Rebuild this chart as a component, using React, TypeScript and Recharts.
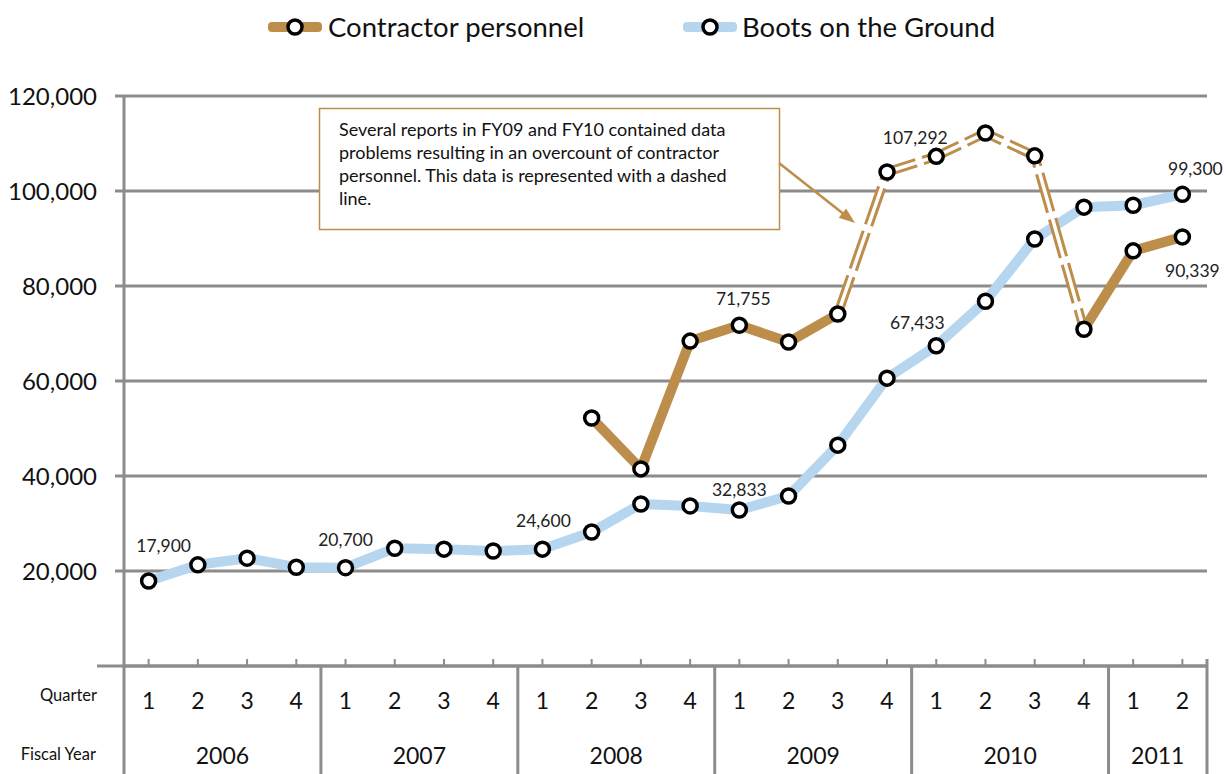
import React from 'react';
import { LineChart, Line, XAxis, YAxis, CartesianGrid, LabelList } from 'recharts';

// ---------- data ----------
const fiscalYears = ['2006', '2006', '2006', '2006', '2007', '2007', '2007', '2007', '2008', '2008', '2008', '2008', '2009', '2009', '2009', '2009', '2010', '2010', '2010', '2010', '2011', '2011'];
const quarters = [1, 2, 3, 4, 1, 2, 3, 4, 1, 2, 3, 4, 1, 2, 3, 4, 1, 2, 3, 4, 1, 2];
const bootsOnGround = [17900, 21300, 22700, 20800, 20700, 24800, 24600, 24200, 24600, 28200, 34100, 33700, 32833, 35800, 46500, 60600, 67433, 76800, 89900, 96600, 97000, 99300];
const contractorPersonnel: (number | null)[] = [null, null, null, null, null, null, null, null, null, 52200, 41500, 68400, 71755, 68200, 74100, 104000, 107292, 112200, 107400, 70900, 87400, 90339];
// contractor data with overcount problems (drawn dashed): from index to index
const overcountStart = 14;
const overcountEnd = 19;
const yTicks = [20000, 40000, 60000, 80000, 100000, 120000];
const bootsLabelIdx = [0, 4, 8, 12, 16, 21];
const contractorLabelIdx = [12, 16, 21];

// ---------- styles ----------
const W = 1226;
const H = 774;
const M = { top: 96, right: 19, bottom: 0, left: 0 };
const Y_W = 124;
const X_H = 108;
const BAND = (W - Y_W - M.right - M.left) / quarters.length;
const TAN = '#BD8E4B';
const BLUE = '#B6D6F0';
const GRID = '#8C8C8C';
const FONT = 'Lato, "Open Sans", sans-serif';

const bootsLabelOffsets: Record<number, [number, number]> = {
  0: [15, -35], 4: [0, -28], 8: [1, -29], 12: [0, -21], 16: [-19, -23], 21: [13, -26],
};
const contractorLabelOffsets: Record<number, [number, number]> = {
  12: [4, -27], 16: [-21, -19], 21: [10, 34],
};

const data = quarters.map((q, i) => {
  const c = contractorPersonnel[i];
  return {
    key: `${fiscalYears[i]}-Q${q}`,
    quarter: q,
    year: fiscalYears[i],
    boots: bootsOnGround[i],
    contractor: c,
    solidA: i <= overcountStart ? c : null,
    dashed: i >= overcountStart && i <= overcountEnd ? c : null,
    solidB: i >= overcountEnd ? c : null,
  };
});

const fmt = (v: number) => v.toLocaleString('en-US');

const XTick = (props: any) => {
  const { x, y, payload } = props;
  const i = payload.index;
  const row = data[i];
  const els: React.ReactNode[] = [];
  els.push(<line key="t" x1={x} x2={x} y1={y - 7} y2={y} stroke={GRID} strokeWidth={2} />);
  els.push(
    <text key="q" x={x} y={y + 43} textAnchor="middle" fontSize={23} fontFamily={FONT} fill="#111">
      {row.quarter}
    </text>
  );
  const isFirstOfYear = i === 0 || data[i - 1].year !== row.year;
  if (isFirstOfYear) {
    const n = data.filter((d) => d.year === row.year).length;
    const left = x - BAND / 2;
    els.push(<line key="s" x1={left} x2={left} y1={y} y2={y + X_H} stroke={GRID} strokeWidth={3} />);
    els.push(
      <text key="y" x={left + (n * BAND) / 2} y={y + 98} textAnchor="middle" fontSize={23} fontFamily={FONT} fill="#111">
        {row.year}
      </text>
    );
  }
  if (i === 0) {
    const left = x - BAND / 2;
    els.push(<line key="ext" x1={left - 27} x2={left} y1={y} y2={y} stroke={GRID} strokeWidth={3} />);
    els.push(
      <text key="ql" x={left - 27} y={y + 35} textAnchor="end" fontSize={16.5} fontFamily={FONT} fill="#111">
        Quarter
      </text>
    );
    els.push(
      <text key="fl" x={left - 28} y={y + 94} textAnchor="end" fontSize={16.5} fontFamily={FONT} fill="#111">
        Fiscal Year
      </text>
    );
  }
  if (i === data.length - 1) {
    const right = x + BAND / 2;
    els.push(<line key="r" x1={right} x2={right} y1={y - 7} y2={y + X_H} stroke={GRID} strokeWidth={3} />);
  }
  return <g>{els}</g>;
};

const makeLabel = (idxs: number[], offsets: Record<number, [number, number]>) => (props: any) => {
  const { x, y, value, index } = props;
  if (!idxs.includes(index) || value == null) return null;
  const [dx, dy] = offsets[index];
  return (
    <text x={x + dx} y={y + dy} textAnchor="middle" dominantBaseline="central" fontSize={17.5} fontFamily={FONT} fill="#222">
      {fmt(value)}
    </text>
  );
};

const dotStyle = { r: 7, fill: '#fff', stroke: '#000', strokeWidth: 3.5 };

const LegendIcon = ({ color }: { color: string }) => (
  <svg width={56} height={20} style={{ display: 'block' }}>
    <rect x={1} y={5} width={54} height={10} rx={4} fill={color} />
    <circle cx={28} cy={10} r={7} fill="#fff" stroke="#000" strokeWidth={3.5} />
  </svg>
);

const annotationLines = [
  'Several reports in FY09 and FY10 contained data',
  'problems resulting in an overcount of contractor',
  'personnel. This data is represented with a dashed',
  'line.',
];

export default function App() {
  return (
    <div style={{ position: 'relative', width: W, height: H, background: '#fff', fontFamily: FONT }}>
      <style>{'body{margin:0;}'}</style>
      <LineChart width={W} height={H} data={data} margin={M}>
        <CartesianGrid vertical={false} stroke={GRID} strokeWidth={3} />
        <XAxis
          dataKey="key"
          height={X_H}
          interval={0}
          tickSize={0}
          tickMargin={0}
          tickLine={false}
          padding={{ left: BAND / 2, right: BAND / 2 }}
          axisLine={{ stroke: GRID, strokeWidth: 3 }}
          tick={<XTick />}
        />
        <YAxis
          width={Y_W}
          domain={[0, 120000]}
          ticks={yTicks}
          tickSize={9}
          tickMargin={18}
          tickLine={{ stroke: GRID, strokeWidth: 3 }}
          axisLine={{ stroke: GRID, strokeWidth: 3 }}
          tickFormatter={fmt}
          tick={{ fontSize: 24, fontFamily: FONT, fill: '#111' }}
          allowDataOverflow
        />
        <Line dataKey="boots" type="linear" stroke={BLUE} strokeWidth={10} dot={false} activeDot={false} isAnimationActive={false} strokeLinejoin="round" />
        <Line dataKey="solidA" type="linear" stroke={TAN} strokeWidth={10} dot={false} activeDot={false} isAnimationActive={false} strokeLinejoin="round" />
        <Line dataKey="dashed" type="linear" stroke={TAN} strokeWidth={9.5} strokeDasharray="40 7" dot={false} activeDot={false} isAnimationActive={false} />
        <Line dataKey="dashed" type="linear" stroke="#fff" strokeWidth={3.5} dot={false} activeDot={false} isAnimationActive={false} />
        <Line dataKey="solidB" type="linear" stroke={TAN} strokeWidth={10} dot={false} activeDot={false} isAnimationActive={false} strokeLinejoin="round" />
        <Line dataKey="boots" type="linear" stroke="none" strokeWidth={0} dot={dotStyle} activeDot={false} isAnimationActive={false}>
          <LabelList dataKey="boots" content={makeLabel(bootsLabelIdx, bootsLabelOffsets)} />
        </Line>
        <Line dataKey="contractor" type="linear" stroke="none" strokeWidth={0} dot={dotStyle} activeDot={false} isAnimationActive={false}>
          <LabelList dataKey="contractor" content={makeLabel(contractorLabelIdx, contractorLabelOffsets)} />
        </Line>
      </LineChart>

      {/* legend */}
      <div style={{ position: 'absolute', top: 0, left: 0, width: W, height: 55, pointerEvents: 'none' }}>
        <div style={{ position: 'absolute', left: 267, top: 10, display: 'flex', alignItems: 'center', height: 34 }}>
          <LegendIcon color={TAN} />
          <span style={{ marginLeft: 5, fontSize: 27.5, color: '#111', lineHeight: '34px' }}>Contractor personnel</span>
        </div>
        <div style={{ position: 'absolute', left: 682, top: 10, display: 'flex', alignItems: 'center', height: 34 }}>
          <LegendIcon color={BLUE} />
          <span style={{ marginLeft: 4, fontSize: 27.5, color: '#111', lineHeight: '34px' }}>Boots on the Ground</span>
        </div>
      </div>

      {/* annotation */}
      <svg width={W} height={H} style={{ position: 'absolute', top: 0, left: 0, pointerEvents: 'none' }}>
        <rect x={319.5} y={108.5} width={460} height={121} fill="#fff" stroke={TAN} strokeWidth={1.5} />
        {annotationLines.map((t, i) => (
          <text key={i} x={339} y={136 + i * 23} fontSize={18} fontFamily={FONT} fill="#111">
            {t}
          </text>
        ))}
        <line x1={779} y1={163} x2={843} y2={213.5} stroke={TAN} strokeWidth={2.5} />
        <polygon points="855,223 838.7,217.8 846.1,208.4" fill={TAN} />
      </svg>
    </div>
  );
}
